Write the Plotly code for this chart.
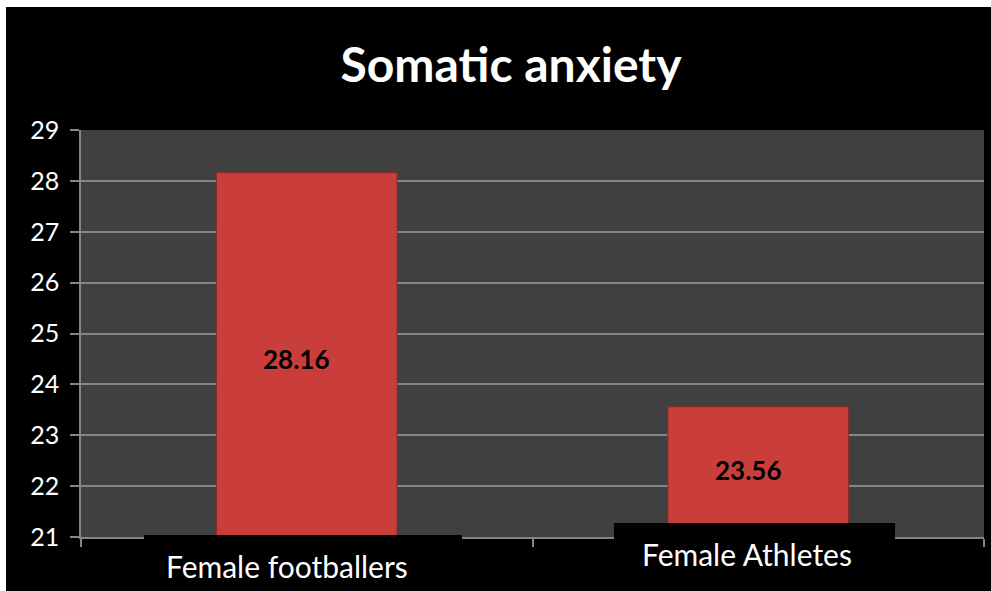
import plotly.graph_objects as go

# Somatic anxiety scores by group
groups = ["Female footballers", "Female Athletes"]
scores = [28.16, 23.56]
y_ticks = [21, 22, 23, 24, 25, 26, 27, 28, 29]
y_min, y_max = 21, 29

FONT = "Lato, Carlito, Calibri, sans-serif"

fig = go.Figure()
fig.add_trace(go.Bar(
    x=groups,
    y=scores,
    width=0.4,
    marker=dict(color="#C93D3B", line=dict(color="#8E2826", width=1)),
    cliponaxis=True,
    hoverinfo="skip",
))

# plot area: x 81..984 px, y 130..537 px in a 991x591 canvas
L, R, T, B = 81, 7, 130, 54
W, H = 991, 591
pw, ph = W - L - R, H - T - B


def px_x(p):
    return (p - L) / pw


def px_y(p):
    return (H - B - p) / ph


# top edge (in pixels) of the black box under each category label
box_tops = [535, 523]

shapes = [
    # black chart frame (white strip left/top remains)
    dict(type="rect", xref="paper", yref="paper", layer="below",
         x0=px_x(6), x1=px_x(W), y0=px_y(7), y1=px_y(H),
         fillcolor="black", line=dict(width=0)),
    # plot area background
    dict(type="rect", xref="paper", yref="paper", layer="below",
         x0=0, x1=1, y0=0, y1=1,
         fillcolor="#404040", line=dict(width=0)),
    # black boxes behind the category labels
    dict(type="rect", xref="paper", yref="paper", layer="above",
         x0=px_x(144), x1=px_x(462), y0=px_y(H), y1=px_y(box_tops[0]),
         fillcolor="black", line=dict(width=0)),
    dict(type="rect", xref="paper", yref="paper", layer="above",
         x0=px_x(614), x1=px_x(895), y0=px_y(H), y1=px_y(box_tops[1]),
         fillcolor="black", line=dict(width=0)),
]

annotations = [
    dict(text=groups[0], xref="paper", yref="paper", x=px_x(287), y=px_y(566),
         xanchor="center", yanchor="middle", showarrow=False,
         font=dict(family=FONT, size=30, color="white")),
    dict(text=groups[1], xref="paper", yref="paper", x=px_x(747), y=px_y(554),
         xanchor="center", yanchor="middle", showarrow=False,
         font=dict(family=FONT, size=30, color="white")),
]

# value labels centred in the visible part of each bar (above the label box)
for g, v, top in zip(groups, scores, box_tops):
    visible_base = y_min + (H - B - top) / ph * (y_max - y_min)
    annotations.append(dict(
        text=f"<b>{v:.2f}</b>", x=g, y=(visible_base + v) / 2 - 0.1,
        xref="x", yref="y",
        xshift=-10, showarrow=False, xanchor="center", yanchor="middle",
        font=dict(family=FONT, size=26, color="black"),
    ))

fig.update_layout(
    width=W, height=H,
    margin=dict(l=L, r=R, t=T, b=B),
    paper_bgcolor="white",
    plot_bgcolor="rgba(0,0,0,0)",
    showlegend=False,
    title=dict(text="<b>Somatic anxiety</b>", x=511 / W, xanchor="center",
               y=1 - 65 / H, yanchor="middle",
               font=dict(family=FONT, size=48, color="white")),
    shapes=shapes,
    annotations=annotations,
)

fig.update_yaxes(
    range=[y_min, y_max],
    tickvals=y_ticks,
    showgrid=True, gridcolor="#858585", gridwidth=1.5,
    showline=True, linecolor="#858585", linewidth=1.5,
    ticks="outside", ticklen=9, tickcolor="#858585", tickwidth=1.5,
    ticklabelstandoff=6,
    tickfont=dict(family=FONT, size=25, color="white"),
    zeroline=False,
)
fig.update_xaxes(
    showticklabels=False,
    tickson="boundaries",
    ticks="outside", ticklen=8, tickcolor="#858585", tickwidth=1.5,
    showline=True, linecolor="#858585", linewidth=1.5,
    showgrid=False,
)

fig.write_html("out.html")
